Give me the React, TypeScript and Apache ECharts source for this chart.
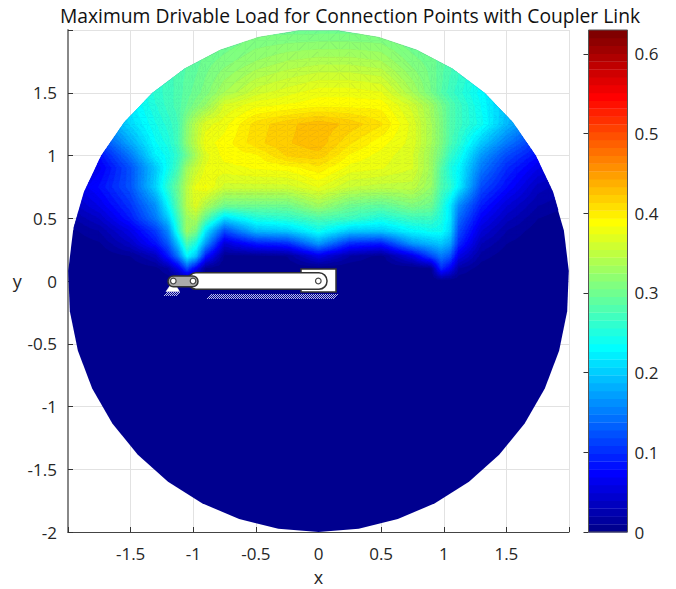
import React, { useEffect, useRef } from "react";
import * as echarts from "echarts";

const titleText = "Maximum Drivable Load for Connection Points with Coupler Link";
const xTicks = [-1.5, -1, -0.5, 0, 0.5, 1, 1.5];
const yTicks = [-2, -1.5, -1, -0.5, 0, 0.5, 1, 1.5];
const barTicks = [0, 0.1, 0.2, 0.3, 0.4, 0.5, 0.6];
const barMax = 0.63;
const levelCount = 64;
const rimCount = 39;
const radius = 2;
const subdivisions = 3;

const xs = [-2, -1.75, -1.5, -1.3, -1.2, -1.12, -1.05, -0.98, -0.9, -0.75, -0.5, -0.25, 0, 0.25, 0.5, 0.75, 0.9, 0.98, 1.05, 1.12, 1.3, 1.5, 1.75, 2];
const ys = [2, 1.75, 1.5, 1.4, 1.25, 1.1, 1, 0.9, 0.75, 0.6, 0.5, 0.4, 0.3, 0.2, 0.1, 0];
const load = [
  [.2,.22,.24,.26,.27,.27,.28,.28,.28,.29,.30,.30,.30,.30,.30,.29,.28,.27,.27,.26,.24,.22,.2,.2],
  [.2,.22,.24,.26,.27,.28,.285,.29,.30,.31,.325,.335,.34,.34,.335,.31,.30,.29,.28,.27,.25,.22,.2,.2],
  [.18,.2,.22,.26,.27,.28,.29,.30,.31,.335,.36,.37,.38,.38,.375,.335,.305,.285,.27,.26,.23,.2,.18,.18],
  [.16,.18,.22,.255,.27,.28,.295,.31,.325,.365,.38,.385,.39,.39,.39,.36,.33,.305,.285,.27,.235,.195,.16,.15],
  [.12,.16,.21,.245,.26,.275,.315,.345,.37,.38,.408,.42,.43,.42,.405,.37,.335,.31,.285,.27,.24,.19,.14,.1],
  [.08,.11,.18,.235,.25,.275,.32,.35,.38,.388,.41,.422,.43,.405,.388,.37,.335,.31,.28,.26,.2,.15,.1,.07],
  [.05,.08,.15,.225,.24,.265,.30,.335,.37,.388,.392,.415,.42,.392,.38,.365,.33,.30,.265,.245,.17,.12,.08,.05],
  [.04,.065,.125,.2,.24,.275,.33,.355,.375,.38,.385,.388,.40,.38,.375,.365,.33,.285,.25,.23,.15,.10,.06,.04],
  [.05,.08,.125,.205,.26,.30,.345,.375,.385,.36,.36,.36,.375,.355,.35,.35,.325,.28,.26,.225,.12,.08,.035,.02],
  [.03,.06,.105,.165,.23,.29,.345,.37,.34,.30,.3,.3,.33,.3,.29,.31,.3,.26,.22,.16,.09,.05,.02,.01],
  [.015,.04,.09,.15,.2,.27,.33,.34,.29,.21,.25,.26,.28,.27,.25,.27,.27,.25,.22,.14,.07,.035,.01,0],
  [.005,.02,.06,.11,.16,.25,.33,.31,.22,.12,.19,.2,.24,.2,.2,.23,.24,.24,.21,.12,.05,.02,.003,0],
  [0,.008,.04,.085,.13,.2,.28,.25,.17,.05,.09,.1,.17,.10,.09,.17,.19,.2,.18,.1,.03,.01,0,0],
  [0,0,.01,.035,.09,.15,.23,.2,.09,.006,.005,.01,.06,.02,.005,.06,.12,.15,.13,.06,.015,.003,0,0],
  [0,0,0,.005,.02,.06,.12,.07,.006,0,0,0,0,0,0,0,.005,.1,.07,.02,.003,0,0,0],
  [0,0,0,0,0,0,0,0,0,0,0,0,0,0,0,0,0,0,0,0,0,0,0,0],
];

type V = [number, number, number];

function jet(k: number): string {
  const t = (k + 1) / levelCount;
  const ch = (o: number) => Math.max(0, Math.min(1, 1.5 - Math.abs(4 * t - o)));
  const h = (n: number) => Math.round(n * 255);
  return `rgb(${h(ch(3))},${h(ch(2))},${h(ch(1))})`;
}

const rim: [number, number][] = Array.from({ length: rimCount }, (_, k) => {
  const a = -Math.PI / 2 + (2 * Math.PI * k) / rimCount;
  return [radius * Math.cos(a), radius * Math.sin(a)];
});

function clipValue(poly: V[], level: number, keepAbove: boolean): V[] {
  const out: V[] = [];
  const inside = (p: V) => (keepAbove ? p[2] >= level : p[2] <= level);
  poly.forEach((p, i) => {
    const q = poly[(i + 1) % poly.length];
    const a = inside(p), b = inside(q);
    if (a) out.push(p);
    if (a !== b) {
      const t = (level - p[2]) / (q[2] - p[2]);
      out.push([p[0] + t * (q[0] - p[0]), p[1] + t * (q[1] - p[1]), level]);
    }
  });
  return out;
}

function clipRim(poly: V[]): V[] {
  let res = poly;
  for (let e = 0; e < rim.length && res.length; e++) {
    const a = rim[e], b = rim[(e + 1) % rim.length];
    const side = (p: V) => (b[0] - a[0]) * (p[1] - a[1]) - (b[1] - a[1]) * (p[0] - a[0]);
    const out: V[] = [];
    res.forEach((p, i) => {
      const q = res[(i + 1) % res.length];
      const sp = side(p), sq = side(q);
      if (sp >= 0) out.push(p);
      if (sp >= 0 !== sq >= 0) {
        const t = sp / (sp - sq);
        out.push([p[0] + t * (q[0] - p[0]), p[1] + t * (q[1] - p[1]), p[2] + t * (q[2] - p[2])]);
      }
    });
    res = out;
  }
  return res;
}

const cells: number[][] = [];
for (let j = 0; j < ys.length - 1; j++) {
  for (let i = 0; i < xs.length - 1; i++) {
    const m = Math.max(load[j][i], load[j][i + 1], load[j + 1][i], load[j + 1][i + 1]);
    if (m > barMax / levelCount) cells.push([xs[i], ys[j], i, j]);
  }
}

const levels = Array.from({ length: levelCount }, (_, k) => [0.5, (k * barMax) / levelCount, k]);

function renderCell(params: any, api: any) {
  const [, , i, j] = cells[params.dataIndex];
  const children: any[] = [];
  const step = barMax / levelCount;
  const at = (u: number, w: number): V => [
    xs[i] + u * (xs[i + 1] - xs[i]),
    ys[j] + w * (ys[j + 1] - ys[j]),
    (1 - u) * (1 - w) * load[j][i] + u * (1 - w) * load[j][i + 1] + (1 - u) * w * load[j + 1][i] + u * w * load[j + 1][i + 1],
  ];
  const n = subdivisions;
  for (let a = 0; a < n; a++) {
    for (let b = 0; b < n; b++) {
      const p = at(a / n, b / n), q = at((a + 1) / n, b / n), r = at((a + 1) / n, (b + 1) / n), s = at(a / n, (b + 1) / n);
      const split = Math.abs(p[2] - r[2]) < Math.abs(q[2] - s[2]);
      const tris = split ? [[p, q, r], [p, r, s]] : [[p, q, s], [q, r, s]];
      for (const tri of tris as V[][]) {
        const hi = Math.max(tri[0][2], tri[1][2], tri[2][2]);
        const lo = Math.min(tri[0][2], tri[1][2], tri[2][2]);
        if (hi < step) continue;
        const k0 = Math.max(1, Math.floor(lo / step));
        const k1 = Math.min(levelCount - 1, Math.floor(hi / step));
        const whole = clipRim(tri);
        if (whole.length < 3) continue;
        for (let k = k0; k <= k1; k++) {
          let poly = clipValue(whole, k * step, true);
          if (poly.length) poly = clipValue(poly, (k + 1) * step, false);
          if (poly.length < 3) continue;
          const fill = jet(k);
          children.push({
            type: "polygon",
            shape: { points: poly.map((v) => api.coord([v[0], v[1]])) },
            style: { fill, stroke: fill, lineWidth: 0.7 },
          });
        }
      }
    }
  }
  return { type: "group", children };
}

function renderRim(_: any, api: any) {
  return {
    type: "polygon",
    shape: { points: rim.map((p) => api.coord(p)) },
    style: { fill: jet(0) },
  };
}

function renderLevel(params: any, api: any) {
  const k = levels[params.dataIndex][2];
  const p0 = api.coord([0, (k * barMax) / levelCount]);
  const p1 = api.coord([1, ((k + 1) * barMax) / levelCount]);
  return {
    type: "rect",
    shape: { x: p0[0], y: p1[1], width: p1[0] - p0[0], height: p0[1] - p1[1] + 0.4 },
    style: { fill: jet(k) },
  };
}

const hatch = (x0: number, x1: number, y0: number, y1: number) => {
  const out: any[] = [];
  for (let x = x0; x < x1; x += 2) {
    out.push({
      type: "line",
      shape: { x1: x, y1: y1, x2: x + (y1 - y0), y2: y0 },
      style: { stroke: "#e8ecff", lineWidth: 0.8 },
      z: 20,
    });
  }
  return out;
};

const pin = (x: number, y: number) => ({
  type: "circle",
  shape: { cx: x, cy: y, r: 2.8 },
  style: { fill: "#fff", stroke: "#444", lineWidth: 1.2 },
  z: 24,
});

const mechanism: any[] = [
  ...hatch(164, 178, 292, 296),
  ...hatch(207, 334, 294, 299),
  { type: "rect", shape: { x: 301, y: 269, width: 35, height: 23 }, style: { fill: "#fff", stroke: "#333", lineWidth: 1.5 }, z: 21 },
  { type: "rect", shape: { x: 188, y: 272.8, width: 139, height: 16.4, r: 8 }, style: { fill: "#fff", stroke: "#333", lineWidth: 1.5 }, z: 22 },
  { type: "polygon", shape: { points: [[173.3, 281], [166, 291.5], [179.5, 291.5]] }, style: { fill: "#fff", stroke: "#fff", lineWidth: 0.5 }, z: 21 },
  { type: "rect", shape: { x: 168, y: 276, width: 30, height: 10.8, r: 5.4 }, style: { fill: "#aaa", stroke: "#333", lineWidth: 1.5 }, z: 23 },
  pin(173.3, 281),
  pin(193, 281),
  pin(318.3, 281),
  { type: "rect", shape: { x: 588.5, y: 30, width: 39, height: 502 }, style: { fill: "none", stroke: "#555", lineWidth: 1 }, z: 30 },
];

const fontFamily = "'Open Sans', sans-serif";

export default function App() {
  const ref = useRef<HTMLDivElement>(null);
  useEffect(() => {
    const chart = echarts.init(ref.current!, undefined, { renderer: "svg" });
    const labelStyle = { color: "#262626", fontSize: 17, fontFamily };
    chart.setOption({
      animation: false,
      backgroundColor: "#fff",
      title: {
        text: titleText,
        left: 345,
        top: 1,
        textAlign: "center",
        textStyle: { color: "#111", fontSize: 19.3, fontWeight: "normal", fontFamily },
      },
      grid: [
        { left: 68, top: 30, width: 501, height: 502, outerBoundsMode: "none" },
        { left: 588.5, top: 30, width: 39, height: 502, outerBoundsMode: "none" },
      ],
      xAxis: [
        {
          type: "value", gridIndex: 0, min: -2, max: 2, interval: 0.5,
          name: "x", nameLocation: "middle", nameGap: 36,
          nameTextStyle: { ...labelStyle, fontSize: 18 },
          axisLine: { onZero: false, lineStyle: { color: "#444", width: 1 } },
          axisTick: { inside: true, length: 5, lineStyle: { color: "#333" } },
          axisLabel: { ...labelStyle, margin: 13, customValues: xTicks, formatter: (v: number) => String(v) },
          splitLine: { show: true, lineStyle: { color: "#e2e2e2", width: 1 } },
        },
        { type: "value", gridIndex: 1, min: 0, max: 1, show: false },
      ],
      yAxis: [
        {
          type: "value", gridIndex: 0, min: -2, max: 2, interval: 0.5,
          name: "y", nameLocation: "middle", nameGap: 44, nameRotate: 0,
          nameTextStyle: { ...labelStyle, fontSize: 18 },
          axisLine: { onZero: false, lineStyle: { color: "#888", width: 2 } },
          axisTick: { inside: true, length: 5, lineStyle: { color: "#333" } },
          axisLabel: { ...labelStyle, margin: 11, customValues: yTicks, formatter: (v: number) => String(v) },
          splitLine: { show: true, lineStyle: { color: "#e2e2e2", width: 1 } },
        },
        {
          type: "value", gridIndex: 1, min: 0, max: barMax, position: "right",
          axisLine: { show: false },
          axisTick: { show: true, inside: true, length: 5, customValues: barTicks, lineStyle: { color: "#333" } },
          axisLabel: { ...labelStyle, margin: 7, customValues: barTicks, formatter: (v: number) => String(v) },
          splitLine: { show: false },
        },
      ],
      series: [
        { type: "custom", xAxisIndex: 0, yAxisIndex: 0, silent: true, clip: false, z: 2, data: [[0, 0]], renderItem: renderRim, encode: { x: 0, y: 1 } },
        { type: "custom", xAxisIndex: 0, yAxisIndex: 0, silent: true, clip: false, z: 3, data: cells, renderItem: renderCell, encode: { x: 0, y: 1 } },
        { type: "custom", xAxisIndex: 1, yAxisIndex: 1, silent: true, clip: false, z: 3, data: levels, renderItem: renderLevel, encode: { x: 0, y: 1 } },
      ],
      graphic: mechanism,
    });
    return () => chart.dispose();
  }, []);
  return <div ref={ref} style={{ position: "fixed", left: 0, top: 0, width: 676, height: 589 }} />;
}
